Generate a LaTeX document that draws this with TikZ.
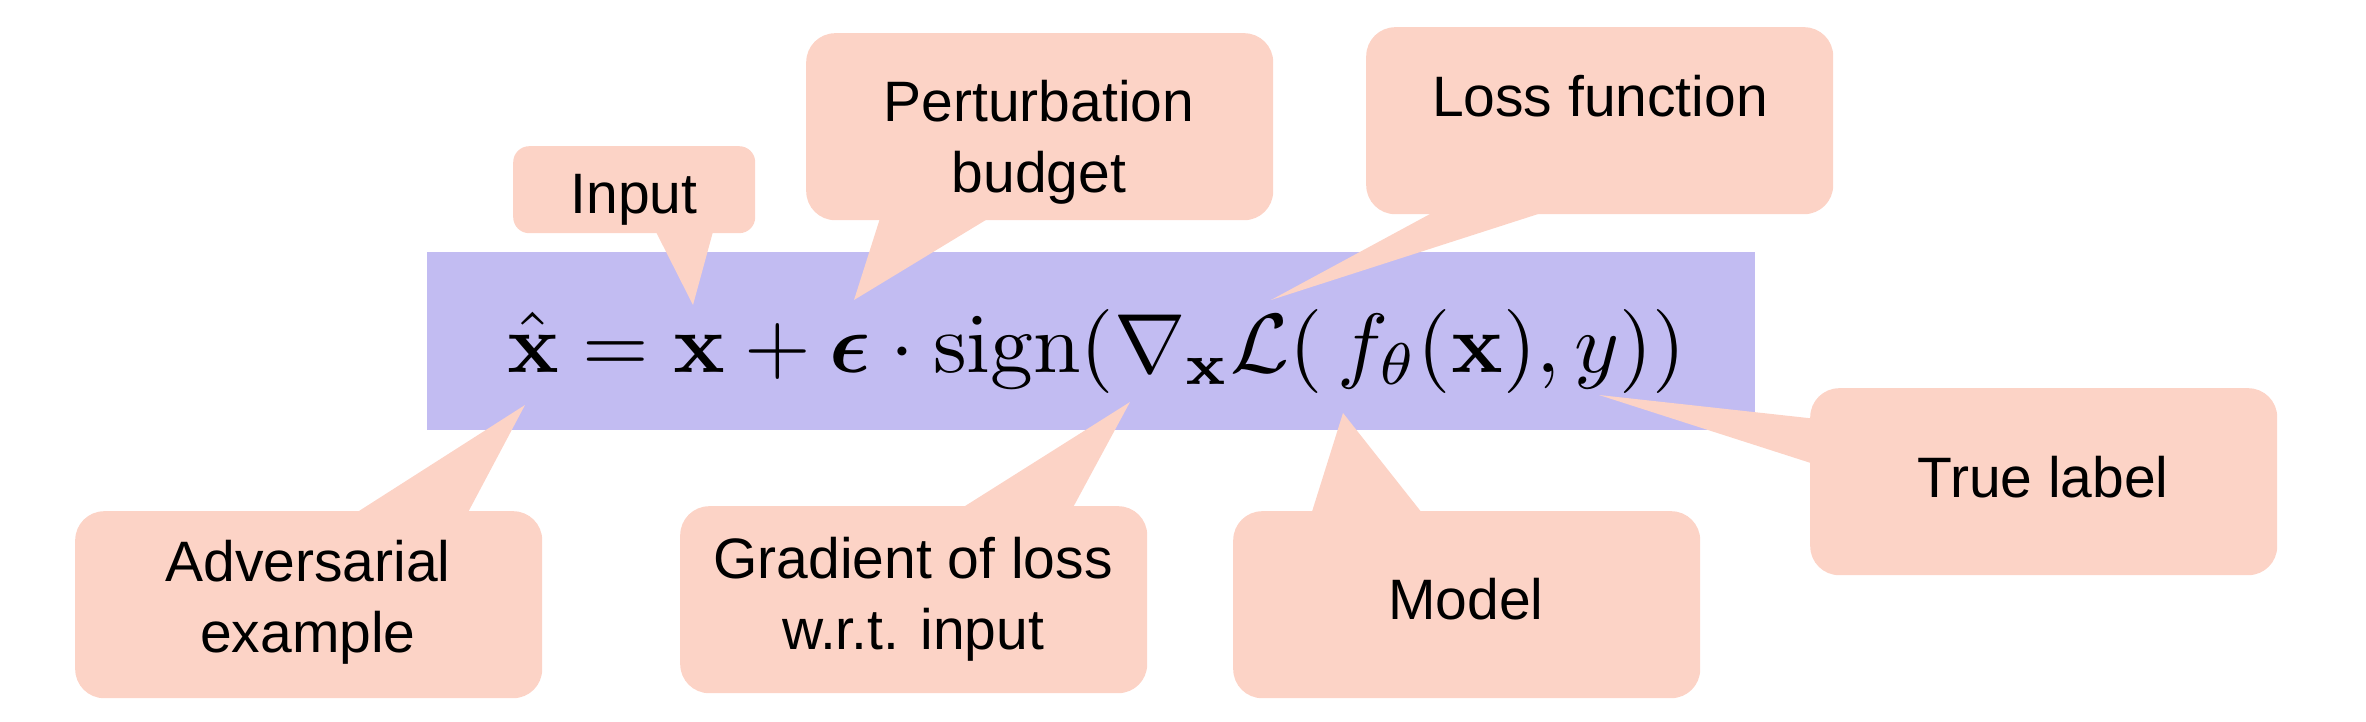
\documentclass[tikz,border=0pt]{standalone}
\usepackage{amsmath,bm}
\usepackage[no-math]{fontspec}
\setmainfont{Liberation Sans}
\definecolor{salmon}{RGB}{252,211,198}
\definecolor{eqblue}{RGB}{194,188,242}
\begin{document}
\begin{tikzpicture}[x=1pt,y=-1pt,
  callout/.style={fill=salmon,draw=none},
  box/.style={callout,rounded corners=29pt,minimum width=467pt,minimum height=187pt,inner sep=0pt,anchor=north west},
  lbl/.style={anchor=base,inner sep=0pt,font=\fontsize{57pt}{71pt}\selectfont}]
\useasboundingbox (0,0) rectangle (2366,722);
% equation background
\fill[eqblue] (427,252) rectangle (1755,430);
% callout boxes
\node[box] (pert) at (806,33) {};
\node[box] (loss) at (1366,27) {};
\node[box] (adv)  at (75,511) {};
\node[box] (grad) at (680,506) {};
\node[box] (model) at (1233,511) {};
\node[box] (truel) at (1810,388) {};
\node[box,minimum width=242pt,minimum height=87pt,rounded corners=16pt] (inp) at (513,146) {};
% pointer tips and bases
\coordinate (tInp) at (693,305);   \coordinate (bInpA) at (654,228);  \coordinate (bInpB) at (714,228);
\coordinate (tPert) at (854,300);  \coordinate (bPertA) at (882,212); \coordinate (bPertB) at (999,212);
\coordinate (tLoss) at (1271,300); \coordinate (bLossA) at (1443,207); \coordinate (bLossB) at (1560,207);
\coordinate (tAdv) at (525,405);   \coordinate (bAdvA) at (348,518);  \coordinate (bAdvB) at (465,518);
\coordinate (tGrad) at (1130,402); \coordinate (bGradA) at (954,513); \coordinate (bGradB) at (1070,513);
\coordinate (tModel) at (1343,413);\coordinate (bModelA) at (1310,518); \coordinate (bModelB) at (1426,518);
\coordinate (tTrue) at (1599,395); \coordinate (bTrueA) at (1817,419); \coordinate (bTrueB) at (1817,465);
\fill[callout] (bInpA) -- (bInpB) -- (tInp) -- cycle;
\fill[callout] (bPertA) -- (bPertB) -- (tPert) -- cycle;
\fill[callout] (bLossA) -- (bLossB) -- (tLoss) -- cycle;
\fill[callout] (bAdvA) -- (bAdvB) -- (tAdv) -- cycle;
\fill[callout] (bGradA) -- (bGradB) -- (tGrad) -- cycle;
\fill[callout] (bModelA) -- (bModelB) -- (tModel) -- cycle;
\fill[callout] (bTrueA) -- (bTrueB) -- (tTrue) -- cycle;
% labels
\node[lbl] (tinp) at (634,214) {Input};
\node[lbl] (tpert1) at (1039,122) {Perturbation};
\node[lbl] (tpert2) at (1039,193) {budget};
\node[lbl] (tloss) at (1600,117) {Loss function};
\node[lbl] (tadv1) at (308,581) {Adversarial};
\node[lbl] (tadv2) at (308,652) {example};
\node[lbl] (tgrad1) at (913,578) {Gradient of loss};
\node[lbl] (tgrad2) at (913,649) {w.r.t. input};
\node[lbl] (tmodel) at (1466,619) {Model};
\node[lbl] (ttrue) at (2043,497) {True label};
% equation
\node[anchor=base west,inner sep=0pt] (eq) at (507,372)
  {\resizebox{1178pt}{63pt}{$\hat{\mathbf{x}} = \mathbf{x} + \bm{\epsilon}\cdot\mathrm{sign}(\nabla_{\mathbf{x}}\mathcal{L}(\,f_\theta(\mathbf{x}),y))$}};
\end{tikzpicture}
\end{document}
